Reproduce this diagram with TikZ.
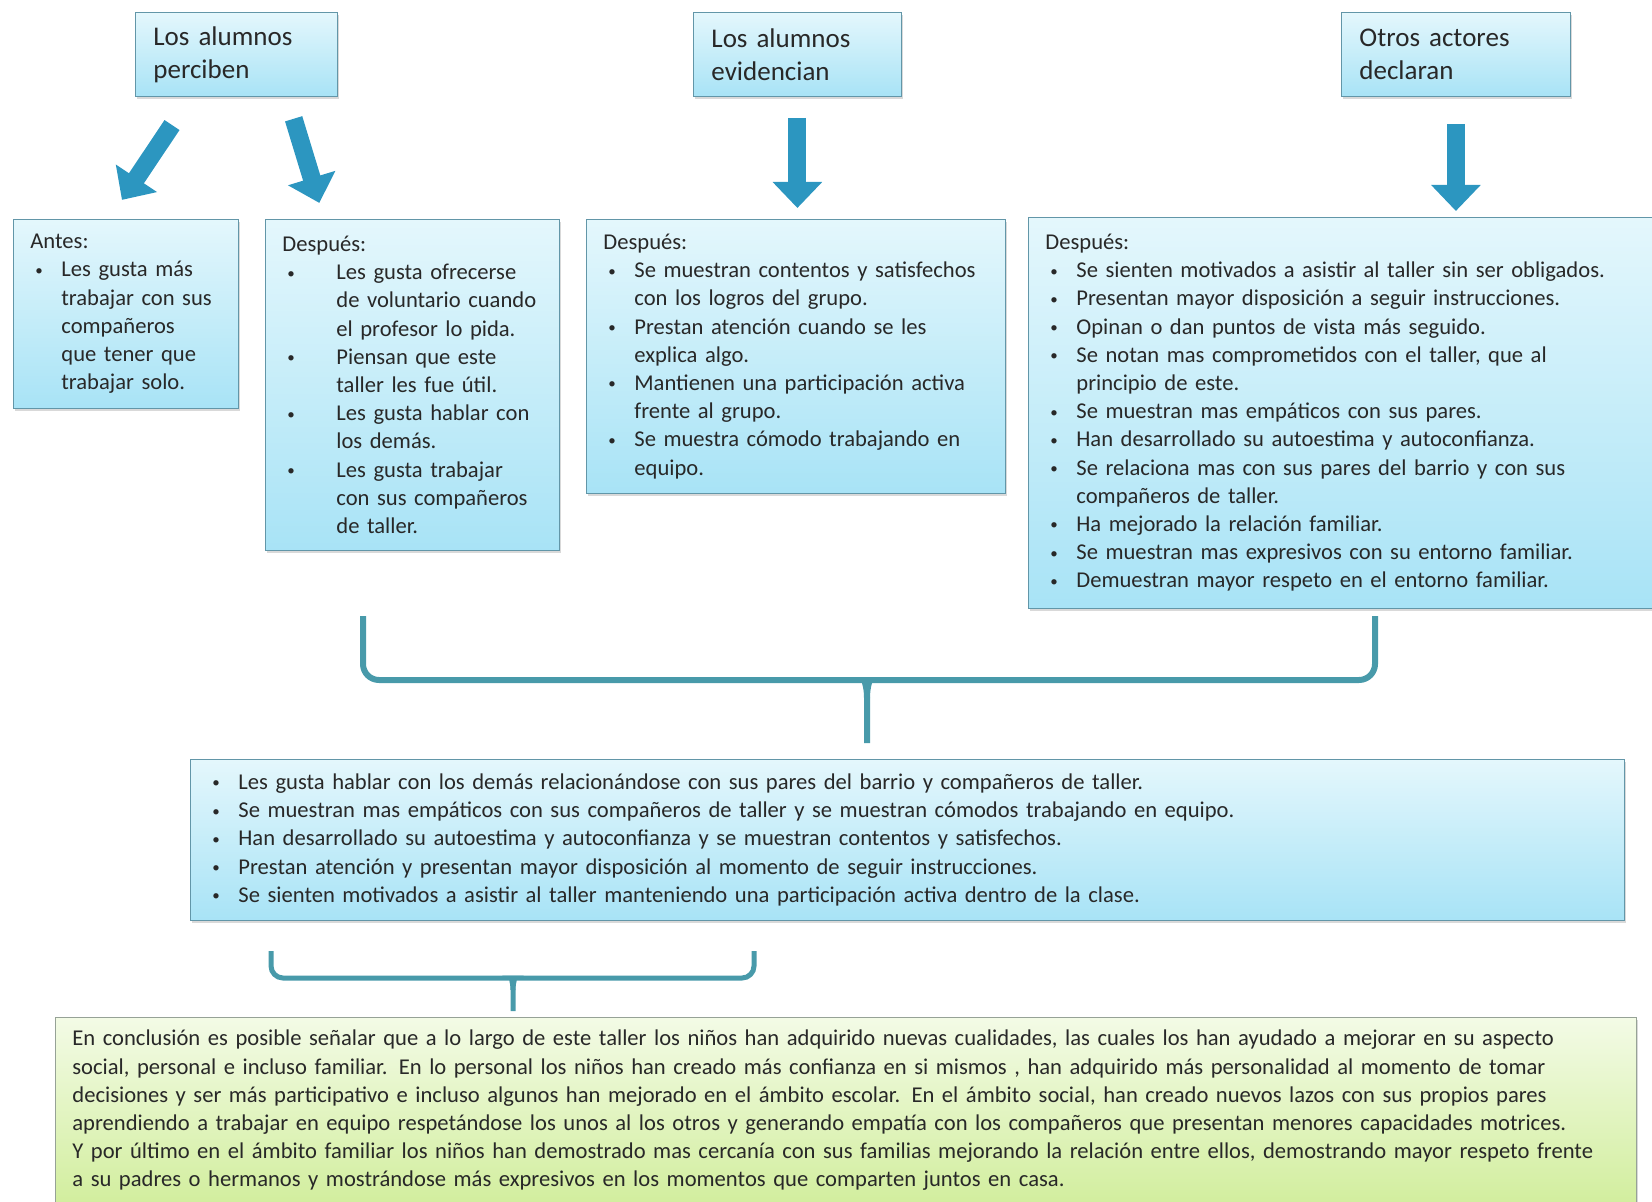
\documentclass[tikz,border=0pt]{standalone}
\usepackage{fontspec}
\setmainfont{Carlito}
\usepackage{xcolor}
\usepackage{tikz}
\usetikzlibrary{arrows.meta,shadows,calc}
\setlength{\parindent}{0pt}
\definecolor{boxtop}{RGB}{228,247,252}
\definecolor{boxbot}{RGB}{168,227,246}
\definecolor{boxline}{RGB}{98,150,168}
\definecolor{arrowblue}{RGB}{44,150,192}
\definecolor{bracecol}{RGB}{72,154,170}
\definecolor{greentop}{RGB}{243,251,230}
\definecolor{greenbot}{RGB}{210,238,158}
\definecolor{greenline}{RGB}{150,162,150}
\definecolor{txt}{RGB}{40,40,40}
\newcommand{\bul}[1][13pt]{\hspace*{2.5pt}\makebox[#1][l]{\raisebox{0.8pt}{\fontsize{7.5}{7.5}\selectfont\textbullet}}}
\newcommand{\ind}[1][15.5pt]{\hspace*{#1}}

\begin{document}
\begin{tikzpicture}[x=0.5pt,y=-0.5pt,
  head/.style={draw=boxline,top color=boxtop,bottom color=boxbot,anchor=north west,
    inner xsep=9pt,inner ysep=4pt,minimum height=42pt,align=left,text=txt,
    font=\fontsize{13.5}{16.5}\selectfont,
    drop shadow={opacity=0.3,shadow xshift=1pt,shadow yshift=-1.5pt}},
  card/.style={draw=boxline,top color=boxtop,bottom color=boxbot,anchor=north west,
    inner xsep=8.5pt,inner ysep=4pt,align=left,text=txt,
    font=\fontsize{11.3}{14.1}\selectfont,
    drop shadow={opacity=0.3,shadow xshift=1pt,shadow yshift=-1.5pt}},
  note/.style={card,draw=greenline,top color=greentop,bottom color=greenbot},
  fat/.style={arrowblue,line width=9pt,-{Triangle[length=13pt,width=24pt]}},
  brace/.style={bracecol,line width=3pt},
]
  \useasboundingbox (0,0) rectangle (1652,1202);

  % top row
  \node[head,minimum width=101pt,text width=83pt] (perciben) at (135,12) {Los alumnos\\perciben};
  \node[head,minimum width=104pt,text width=86pt] (evidencian) at (693,12) {Los alumnos\\evidencian};
  \node[head,minimum width=114.5pt,text width=96.5pt] (declaran) at (1341,12) {Otros actores\\declaran};

  % second row
  \node[card,minimum width=112.5pt,text width=95.5pt,minimum height=94.5pt] (antes) at (13,219) {Antes:\\
    \bul Les gusta más\\
    \ind trabajar con sus\\
    \ind compañeros\\
    \ind que tener que\\
    \ind trabajar solo.};
  \node[card,minimum width=147pt,text width=130pt,minimum height=165.5pt] (despues1) at (265,219) {Después:\\
    \bul[24.5pt]Les gusta ofrecerse\\
    \ind[27pt]de voluntario cuando\\
    \ind[27pt]el profesor lo pida.\\
    \bul[24.5pt]Piensan que este\\
    \ind[27pt]taller les fue útil.\\
    \bul[24.5pt]Les gusta hablar con\\
    \ind[27pt]los demás.\\
    \bul[24.5pt]Les gusta trabajar\\
    \ind[27pt]con sus compañeros\\
    \ind[27pt]de taller.};
  \node[card,minimum width=209.5pt,text width=192.5pt,minimum height=137pt] (despues2) at (586,219) {Después:\\
    \bul Se muestran contentos y satisfechos\\
    \ind con los logros del grupo.\\
    \bul Prestan atención cuando se les\\
    \ind explica algo.\\
    \bul Mantienen una participación activa\\
    \ind frente al grupo.\\
    \bul Se muestra cómodo trabajando en\\
    \ind equipo.};
  \node[card,minimum width=320pt,text width=303pt,minimum height=195.5pt] (despues3) at (1028,217) {Después:\\
    \bul Se sienten motivados a asistir al taller sin ser obligados.\\
    \bul Presentan mayor disposición a seguir instrucciones.\\
    \bul Opinan o dan puntos de vista más seguido.\\
    \bul Se notan mas comprometidos con el taller, que al\\
    \ind principio de este.\\
    \bul Se muestran mas empáticos con sus pares.\\
    \bul Han desarrollado su autoestima y autoconfianza.\\
    \bul Se relaciona mas con sus pares del barrio y con sus\\
    \ind compañeros de taller.\\
    \bul Ha mejorado la relación familiar.\\
    \bul Se muestran mas expresivos con su entorno familiar.\\
    \bul Demuestran mayor respeto en el entorno familiar.};

  % summary and conclusion
  \node[card,minimum width=717pt,text width=700pt,minimum height=80.5pt] (resumen) at (190,759) {%
    \bul Les gusta hablar con los demás relacionándose con sus pares del barrio y compañeros de taller.\\
    \bul Se muestran mas empáticos con sus compañeros de taller y se muestran cómodos trabajando en equipo.\\
    \bul Han desarrollado su autoestima y autoconfianza y se muestran contentos y satisfechos.\\
    \bul Prestan atención y presentan mayor disposición al momento de seguir instrucciones.\\
    \bul Se sienten motivados a asistir al taller manteniendo una participación activa dentro de la clase.};
  \node[note,minimum width=790.5pt,text width=773.5pt,minimum height=93pt] (conclusion) at (55,1017) {%
    En conclusión es posible señalar que a lo largo de este taller los niños han adquirido nuevas cualidades, las cuales los han ayudado a mejorar en su aspecto\\
    social, personal e incluso familiar. En lo personal los niños han creado más confianza en si mismos , han adquirido más personalidad al momento de tomar\\
    decisiones y ser más participativo e incluso algunos han mejorado en el ámbito escolar. En el ámbito social, han creado nuevos lazos con sus propios pares\\
    aprendiendo a trabajar en equipo respetándose los unos al los otros y generando empatía con los compañeros que presentan menores capacidades motrices.\\
    Y por último en el ámbito familiar los niños han demostrado mas cercanía con sus familias mejorando la relación entre ellos, demostrando mayor respeto frente\\
    a su padres o hermanos y mostrándose más expresivos en los momentos que comparten juntos en casa.};

  % block arrows
  \draw[fat,shorten <=17pt,shorten >=11.5pt] (perciben.223) -- (antes.100);
  \draw[fat,shorten <=11.5pt,shorten >=8.4pt] (perciben.320) -- (despues1.118);
  \draw[fat,shorten <=10.5pt,shorten >=5.5pt] (evidencian.south) -- (evidencian.south |- despues2.north);
  \draw[fat,shorten <=13.5pt,shorten >=3pt] (declaran.south) -- (declaran.south |- despues3.north);

  % braces
  \coordinate (bl) at (363,616);
  \coordinate (br) at (1375,616);
  \coordinate (bt) at (867,743);
  \draw[brace] (bl) [rounded corners=8pt] |- (849,680) [sharp corners] .. controls (863,680) and (867,684) .. (867,698) -- (bt);
  \draw[brace] (br) [rounded corners=8pt] |- (885,680) [sharp corners] .. controls (871,680) and (867,684) .. (867,698);
  \coordinate (sl) at (271,951);
  \coordinate (sr) at (754,951);
  \coordinate (st) at (513,1011);
  \draw[brace,line width=2.5pt] (sl) [rounded corners=6pt] |- (501,978) [sharp corners] .. controls (510,978) and (513,981) .. (513,990) -- (st);
  \draw[brace,line width=2.5pt] (sr) [rounded corners=6pt] |- (525,978) [sharp corners] .. controls (516,978) and (513,981) .. (513,990);
\end{tikzpicture}
\end{document}
